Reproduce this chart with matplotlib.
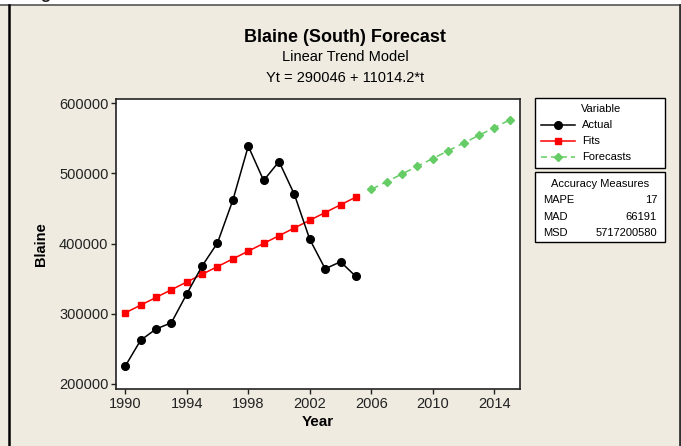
import matplotlib
matplotlib.use('Agg')
import matplotlib.pyplot as plt
from matplotlib.lines import Line2D
from matplotlib.patches import Rectangle

plt.rcParams['font.family'] = ['Liberation Sans', 'DejaVu Sans']

# data
years_actual = [1990, 1991, 1992, 1993, 1994, 1995, 1996, 1997, 1998, 1999,
                2000, 2001, 2002, 2003, 2004, 2005]
actual = [225000, 262000, 278000, 287000, 328000, 368000, 401000, 462000,
          539000, 490000, 517000, 470000, 406000, 364000, 374000, 353000]

intercept = 290046
slope = 11014.2
t_fit = list(range(1, 17))
years_fit = [1989 + t for t in t_fit]
fits = [intercept + slope * t for t in t_fit]
t_fc = list(range(17, 27))
years_fc = [1989 + t for t in t_fc]
forecasts = [intercept + slope * t for t in t_fc]

acc_names = ['MAPE', 'MAD', 'MSD']
acc_values = ['17', '66191', '5717200580']

bg = '#EFEBE1'
green = '#66CC66'

W, H = 681, 446
fig = plt.figure(figsize=(W / 100, H / 100), dpi=100)
fig.patch.set_facecolor(bg)

def fx(px):
    return px / W

def fy(py):
    return 1 - py / H

# white strip on top with the cut-off heading
fig.patches.append(Rectangle((0, fy(5)), 1, 1 - fy(5), transform=fig.transFigure,
                             facecolor='white', edgecolor='none', zorder=0))
fig.lines.append(Line2D([0, 1], [fy(5), fy(5)], transform=fig.transFigure,
                        color='#555555', lw=1.2))
fig.lines.append(Line2D([fx(8.5), fx(8.5)], [0, fy(5)], transform=fig.transFigure,
                        color='black', lw=1.8))
fig.lines.append(Line2D([fx(679.5), fx(679.5)], [0, fy(5)], transform=fig.transFigure,
                        color='#333333', lw=2))
fig.text(fx(40), fy(-1), 'g', fontsize=12, fontweight='bold', va='baseline',
         color='#222222')

ax = fig.add_axes([fx(116), fy(389), fx(520 - 116), (389 - 99) / H])
ax.set_facecolor('white')

ax.plot(years_actual, actual, color='black', lw=1.1, marker='o', ms=5.5, zorder=3)
ax.plot(years_fit, fits, color='red', lw=1.1, marker='s', ms=4.5, zorder=2)
ax.plot(years_fc, forecasts, color=green, lw=1.1, ls=(0, (5, 3)), marker='D',
        ms=4.5, zorder=2)

ax.set_xlim(1989.4, 2015.67)
ax.set_ylim(192460, 606260)
ax.set_xticks(range(1990, 2015, 4))
ax.set_yticks(range(200000, 600001, 100000))
ax.tick_params(direction='out', length=3.5, width=1, labelsize=10.5, colors='#222222', pad=2)
for s in ax.spines.values():
    s.set_linewidth(1.2)
    s.set_color('#222222')

ax.set_xlabel('Year', fontsize=11, fontweight='bold', labelpad=3)
ax.set_ylabel('Blaine', fontsize=10.5, fontweight='bold', labelpad=8)

fig.text(fx(345), fy(37), 'Blaine (South) Forecast', fontsize=13, fontweight='bold',
         ha='center', va='center')
fig.text(fx(345), fy(57), 'Linear Trend Model', fontsize=10.5, ha='center', va='center')
fig.text(fx(345), fy(78), 'Yt = 290046 + 11014.2*t', fontsize=10.5, ha='center', va='center')

# legend box
fig.patches.append(Rectangle((fx(535), fy(168)), fx(130), (168 - 98) / H,
                             transform=fig.transFigure, facecolor='white',
                             edgecolor='black', lw=1))
fig.text(fx(601), fy(109), 'Variable', fontsize=8, ha='center', va='center')
leg_items = [('Actual', 'black', '-', 'o', 5.5),
             ('Fits', 'red', '-', 's', 4.5),
             ('Forecasts', green, (0, (4, 2.5)), 'D', 4.5)]
for i, (name, c, ls, m, ms) in enumerate(leg_items):
    y = fy(125 + 16 * i)
    fig.lines.append(Line2D([fx(541), fx(575)], [y, y], transform=fig.transFigure,
                            color=c, lw=1.1, ls=ls))
    fig.lines.append(Line2D([fx(558)], [y], transform=fig.transFigure, color=c,
                            marker=m, ms=ms, ls='none'))
    fig.text(fx(582), y, name, fontsize=8, va='center')

# accuracy box
fig.patches.append(Rectangle((fx(535), fy(242)), fx(130), (242 - 172) / H,
                             transform=fig.transFigure, facecolor='white',
                             edgecolor='black', lw=1))
fig.text(fx(600), fy(184), 'Accuracy Measures', fontsize=8, ha='center', va='center')
for i, (n, v) in enumerate(zip(acc_names, acc_values)):
    y = fy(200 + 16.5 * i)
    fig.text(fx(543), y, n, fontsize=8, va='center')
    fig.text(fx(657), y, v, fontsize=8, va='center', ha='right')

fig.savefig('out.png', dpi=100, facecolor=bg)
